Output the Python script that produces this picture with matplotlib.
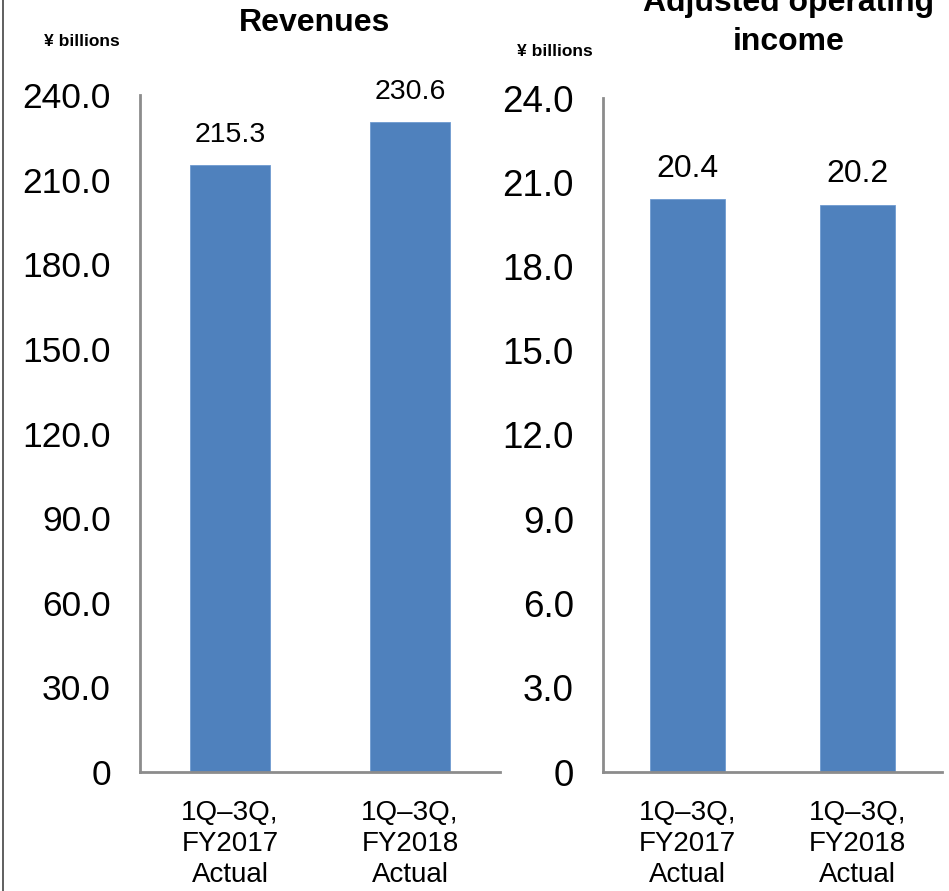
import matplotlib
matplotlib.use("Agg")
import matplotlib.pyplot as plt
from matplotlib.lines import Line2D

plt.rcParams['font.family'] = ['Liberation Sans', 'DejaVu Sans']

categories = ["1Q\u20133Q,\nFY2017\nActual", "1Q\u20133Q,\nFY2018\nActual"]
revenues = [215.3, 230.6]
adj_op_income = [20.4, 20.2]
rev_ticks = [0, 30, 60, 90, 120, 150, 180, 210, 240]
inc_ticks = [0, 3, 6, 9, 12, 15, 18, 21, 24]

BAR = "#4F81BD"
SPINE = "#8C8C8C"
W, H = 949, 891

fig = plt.figure(figsize=(W / 100, H / 100), dpi=100)


def panel(rect, values, ticks, label_size, tick_size):
    ax = fig.add_axes(rect)
    x = list(range(len(values)))
    ax.bar(x, values, width=0.44, color=BAR, edgecolor="#6F9BD1", linewidth=0.6, zorder=2)
    ax.set_xlim(-0.5, len(values) - 0.5)
    ax.set_ylim(ticks[0], ticks[-1])
    ax.set_yticks(ticks)
    ax.set_yticklabels(["0" if t == 0 else f"{t:.1f}" for t in ticks], fontsize=tick_size)
    ax.set_xticks(x)
    ax.set_xticklabels(categories, fontsize=20, linespacing=1.25)
    ax.tick_params(axis="both", length=0)
    ax.tick_params(axis="y", pad=21)
    ax.tick_params(axis="x", pad=20)
    for s in ("top", "right"):
        ax.spines[s].set_visible(False)
    for s in ("left", "bottom"):
        ax.spines[s].set_color(SPINE)
        ax.spines[s].set_linewidth(2)
    for xi, v in zip(x, values):
        ax.annotate(f"{v:.1f}", (xi, v), xytext=(0, 16), textcoords="offset points",
                    ha="center", va="baseline", fontsize=label_size)
    return ax


ax1 = panel([140 / W, 119 / H, 360 / W, 677 / H], revenues, rev_ticks, 20.5, 25.5)
ax2 = panel([603 / W, 119 / H, 339 / W, 674 / H], adj_op_income, inc_ticks, 23, 26.5)

fig.text(315 / W, 1 - 23 / H, "Revenues", ha="center", va="center",
         fontsize=23, fontweight="bold")
fig.text(789 / W, 1 - 50 / H, "Adjusted operating\nincome", ha="center", va="baseline",
         fontsize=23, fontweight="bold", linespacing=1.4)
fig.text(82 / W, 1 - 41 / H, "\u00a5 billions", ha="center", va="center",
         fontsize=12.5, fontweight="bold")
fig.text(555 / W, 1 - 52 / H, "\u00a5 billions", ha="center", va="center",
         fontsize=12.5, fontweight="bold")

fig.add_artist(Line2D([2.5 / W, 2.5 / W], [0, 1], transform=fig.transFigure,
                      color="#444444", linewidth=1.2))

fig.savefig("out.png", dpi=100)
